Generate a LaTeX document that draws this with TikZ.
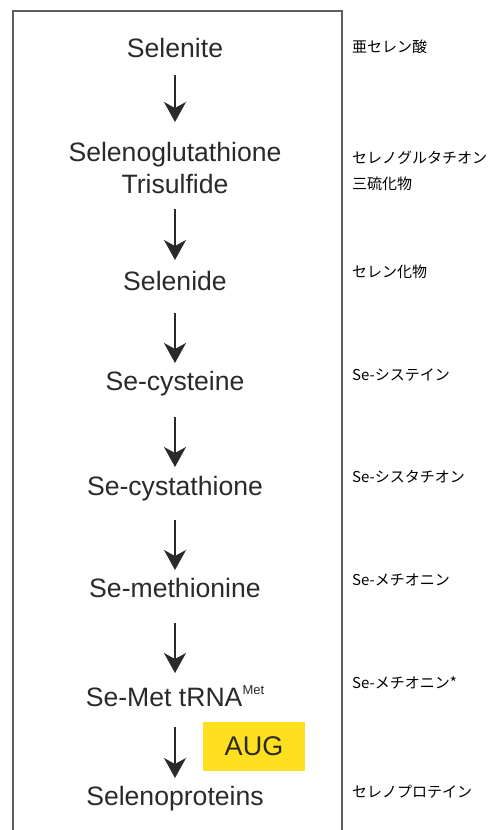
\documentclass[tikz,border=0pt]{standalone}
\usepackage{fontspec}
\setmainfont{Liberation Sans}
\newfontfamily\jpfont{Noto Sans CJK JP}
\usetikzlibrary{arrows.meta,calc}
\definecolor{txtgray}{HTML}{2A2A2A}
\definecolor{boxgray}{HTML}{5E5E5E}
\definecolor{augyellow}{HTML}{FFE01E}
\tikzset{
  compound/.style={anchor=base,inner sep=0pt,text=txtgray,font=\fontsize{26.6}{30}\selectfont},
  jplabel/.style={anchor=base west,inner sep=0pt,text=black,font=\jpfont\fontsize{15}{18}\selectfont},
  arr/.style={line width=1.5pt,draw=txtgray,-{Stealth[length=20pt,width=22pt,inset=6pt]}},
  frame/.style={draw=boxgray,line width=2pt},
  augbox/.style={fill=augyellow,draw=none,minimum width=102pt,minimum height=49pt,inner sep=0pt,text=txtgray,font=\fontsize{27}{30}\selectfont}
}
\begin{document}
\begin{tikzpicture}[x=1pt,y=-1pt]
\useasboundingbox (0,0) rectangle (488,830);
\fill[white] (0,0) rectangle (488,830);
% frame (open at bottom, continues past the page)
\coordinate (f1) at (12.5,830);
\coordinate (f2) at (12.5,10.5);
\coordinate (f3) at (342,10.5);
\coordinate (f4) at (342,830);
\draw[frame] (f1) -- (f2) -- (f3) -- (f4);

% compounds
\node[compound] (n1)  at (175,57)  {Selenite};
\node[compound] (n2a) at (175,161) {Selenoglutathione};
\node[compound] (n2b) at (175,193) {Trisulfide};
\node[compound] (n3)  at (175,290) {Selenide};
\node[compound] (n4)  at (175,390) {Se-cysteine};
\node[compound] (n5)  at (175,495) {Se-cystathione};
\node[compound] (n6)  at (175,597) {Se-methionine};
\node[compound] (n7)  at (175,706) {Se-Met tRNA\raisebox{12pt}{\fontsize{13}{13}\selectfont Met}};
\node[compound] (n8)  at (175,805) {Selenoproteins};

% AUG box
\node[augbox] (aug) at (254,746.5) {AUG};

% arrows
\draw[arr] ($(n1.base)+(0,18)$)  -- ($(n2a.base)+(0,-39)$);
\draw[arr] ($(n2b.base)+(0,16)$) -- ($(n3.base)+(0,-30)$);
\draw[arr] ($(n3.base)+(0,23)$)  -- ($(n4.base)+(0,-27)$);
\draw[arr] ($(n4.base)+(0,27)$)  -- ($(n5.base)+(0,-28)$);
\draw[arr] ($(n5.base)+(0,25)$)  -- ($(n6.base)+(0,-27)$);
\draw[arr] ($(n6.base)+(0,26)$)  -- ($(n7.base)+(0,-33)$);
\draw[arr] ($(n7.base)+(0,21)$)  -- ($(n8.base)+(0,-27)$);

% Japanese labels
\node[jplabel] (j1)  at (352,52)  {亜セレン酸};
\node[jplabel] (j2a) at (352,163) {セレノグルタチオン};
\node[jplabel] (j2b) at (352,189) {三硫化物};
\node[jplabel] (j3)  at (352,277) {セレン化物};
\node[jplabel] (j4)  at (352,380) {Se-システイン};
\node[jplabel] (j5)  at (352,482) {Se-シスタチオン};
\node[jplabel] (j6)  at (352,585) {Se-メチオニン};
\node[jplabel] (j7)  at (352,688) {Se-メチオニン*};
\node[jplabel] (j8)  at (352,797) {セレノプロテイン};
\end{tikzpicture}
\end{document}
